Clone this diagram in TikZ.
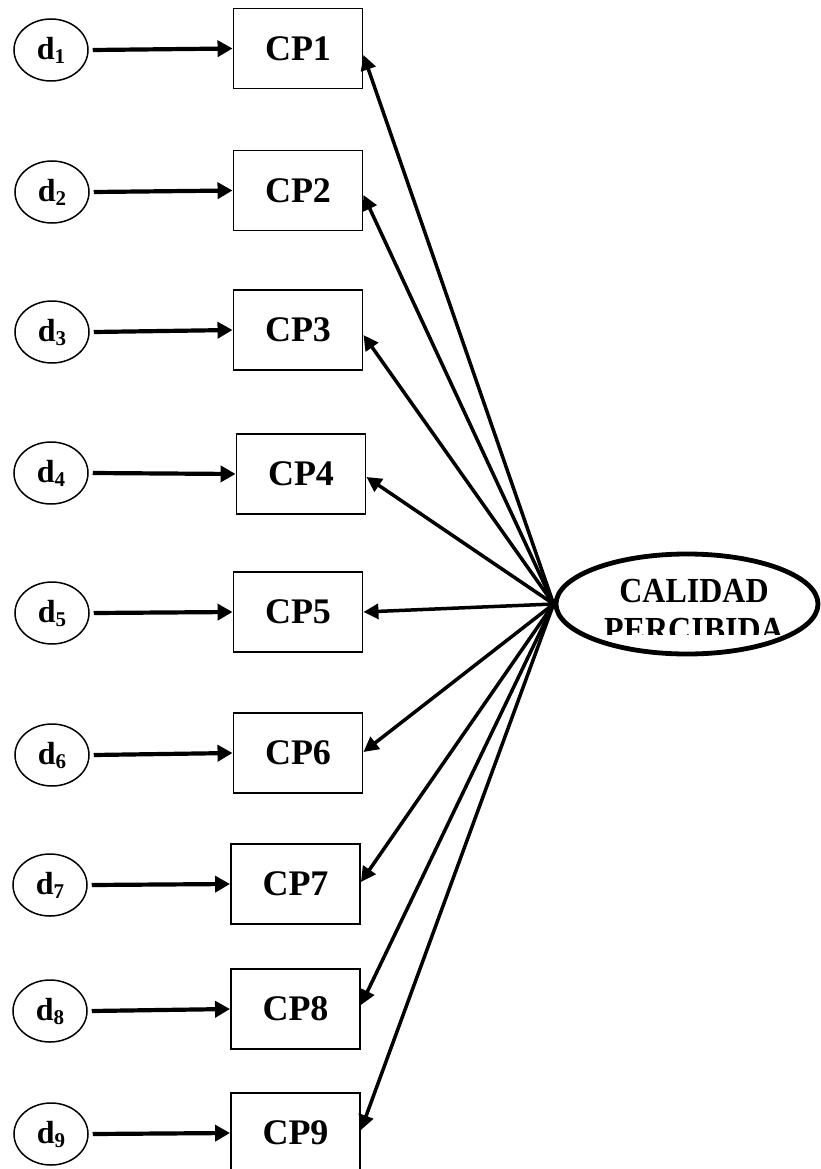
\documentclass[tikz,border=0pt]{standalone}
\usepackage{fontspec}
\setmainfont{Liberation Serif}
\usetikzlibrary{arrows.meta,shapes.geometric}
\begin{document}
\begin{tikzpicture}[x=1pt,y=-1pt,
  errnode/.style={ellipse,draw,line width=1.5pt,minimum width=74pt,minimum height=62pt,
    inner sep=0pt,font=\fontsize{32}{32}\selectfont\bfseries},
  itembox/.style={rectangle,draw,line width=1.9pt,minimum width=129pt,minimum height=80pt,
    inner sep=0pt,font=\fontsize{36}{36}\selectfont\bfseries},
  feed/.style={line width=4.2pt,-{Triangle[length=15pt,width=16pt]}},
  loading/.style={line width=3.5pt,-{Triangle[length=15pt,width=15pt]}},
  latent/.style={ellipse,draw,line width=4.8pt,minimum width=262pt,minimum height=100pt,inner sep=0pt},
  latenttext/.style={font=\fontsize{32}{32}\selectfont\bfseries,inner sep=0pt,anchor=base}]
\useasboundingbox (0,0) rectangle (821,1169);

% latent construct
\node[latent] (cal) at (687,604) {};
\begin{scope}
  \clip (560,555) rectangle (815,634);
  \node[latenttext] (calA) at (694,602) {\scalebox{1}[1.1]{CALIDAD}};
  \node[latenttext] (calB) at (694,641) {\scalebox{1}[1.1]{PERCIBIDA}};
\end{scope}

% indicators, their error terms and the loadings
\foreach \i/\bx/\by/\dx/\dy/\t in {
    1/298/48.5/51/50/-6.5,
    2/298/190.5/52/192/-4.5,
    3/298/330/52/332/-5,
    4/301/474/51/473/-3,
    5/298/612/52/613/0,
    6/298/753/52/755/1,
    7/295.5/884/50/885/2,
    8/295.5/1009/50/1011/4,
    9/295.5/1133/51/1134/3} {
  \node[itembox] (cp\i) at (\bx,\by) {\raisebox{-2pt}{CP\i}};
  \node[errnode] (d\i) at (\dx,\dy) {d\raisebox{-4pt}{\fontsize{21}{21}\selectfont\i}};
  \draw[feed] ([xshift=4pt]d\i.east) -- (cp\i.west);
  \draw[loading] (cal.west) -- ([yshift=\t pt]cp\i.east);
}
\end{tikzpicture}
\end{document}
